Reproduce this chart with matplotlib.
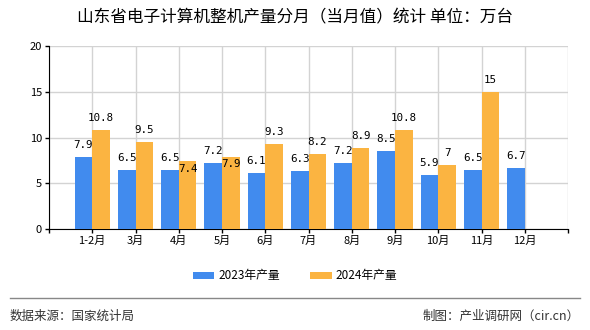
import matplotlib
matplotlib.use("Agg")
import matplotlib.pyplot as plt
import numpy as np

plt.rcParams['font.family'] = ['Noto Sans CJK SC', 'DejaVu Sans']

categories = ["1-2月", "3月", "4月", "5月", "6月", "7月", "8月", "9月", "10月", "11月", "12月"]
values_2023 = [7.9, 6.5, 6.5, 7.2, 6.1, 6.3, 7.2, 8.5, 5.9, 6.5, 6.7]
values_2024 = [10.8, 9.5, 7.4, 7.9, 9.3, 8.2, 8.9, 10.8, 7, 15, None]
series_names = ["2023年产量", "2024年产量"]
yticks = [0, 5, 10, 15, 20]

title = "山东省电子计算机整机产量分月（当月值）统计 单位：万台"
source = "数据来源：国家统计局"
maker = "制图：产业调研网（cir.cn）"

BLUE = "#418BEE"
ORANGE = "#FBB441"

fig = plt.figure(figsize=(5.9, 3.3), dpi=100)
ax = fig.add_axes([49/590, 1-229/330, (568-49)/590, (229-46)/330])

x = np.arange(1, len(categories) + 1)
w = 0.41
v24 = [np.nan if v is None else v for v in values_2024]
ax.bar(x - w/2, values_2023, width=w, color=BLUE, label=series_names[0], zorder=3)
ax.bar(x + w/2, v24, width=w, color=ORANGE, label=series_names[1], zorder=3)

def fmt(v):
    return f"{v:g}"

mono = ['DejaVu Sans Mono']
for xi, a, b in zip(x, values_2023, values_2024):
    ax.annotate(fmt(a), (xi - w/2, a), xytext=(0, 5), textcoords='offset points',
                ha='center', va='bottom', fontsize=7.8, family=mono, zorder=4)
    if b is not None:
        off = 5
        va = 'bottom'
        if b - a < 1.0:
            off = -2
            va = 'top'
        ax.annotate(fmt(b), (xi + w/2, b), xytext=(0, off), textcoords='offset points',
                    ha='center', va=va, fontsize=7.8, family=mono, zorder=4)

ax.set_xlim(0, len(categories) + 1)
ax.set_ylim(0, 20)
ax.set_yticks(yticks)
ax.set_yticklabels([str(t) for t in yticks], fontsize=8)
ax.set_xticks(np.arange(0, len(categories) + 2))
ax.set_xticklabels([""] + categories + [""], fontsize=8)
ax.tick_params(axis='both', length=3, width=1, color='black', pad=2)
ax.grid(True, color='#d3d3d3', linewidth=1, zorder=0)
for s in ['top', 'right']:
    ax.spines[s].set_visible(False)
ax.spines['left'].set_color('black')
ax.spines['bottom'].set_color('black')
ax.set_axisbelow(True)

fig.text(0.5, 1 - 18/330, title, ha='center', va='center', fontsize=12)

handles, labels = ax.get_legend_handles_labels()
fig.legend(handles, labels, loc='center', bbox_to_anchor=(0.5, 1 - 276/330), ncol=2,
           frameon=False, fontsize=8.5, handlelength=1.8, handleheight=0.6,
           columnspacing=2.6, handletextpad=0.3)

fig.add_artist(plt.Line2D([10/590, 580/590], [1 - 298/330, 1 - 298/330],
                          color='#888888', linewidth=1, transform=fig.transFigure))
fig.text(10/590, 1 - 316/330, source, ha='left', va='center', fontsize=9, color='#333333')
fig.text(580/590, 1 - 316/330, maker, ha='right', va='center', fontsize=9, color='#333333')

fig.savefig("out.png", dpi=100)
